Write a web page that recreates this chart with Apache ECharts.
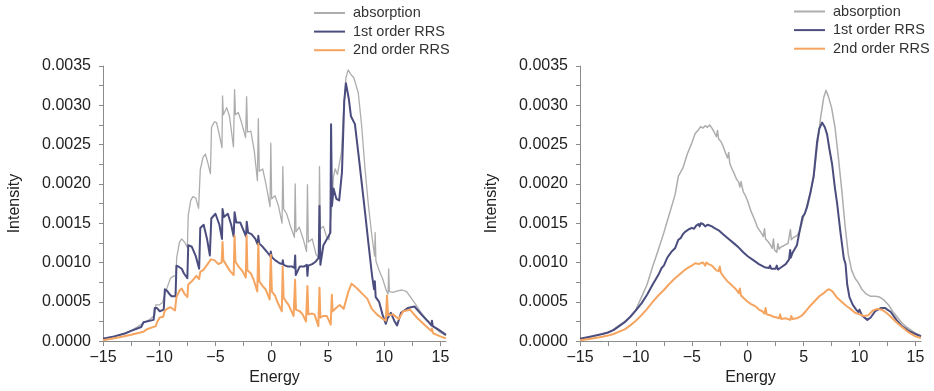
<!DOCTYPE html>
<html>
<head>
<meta charset="utf-8">
<script src="https://cdn.jsdelivr.net/npm/echarts@6/dist/echarts.min.js"></script>
<style>
  html, body { margin: 0; padding: 0; background: #ffffff; }
  #chart { width: 934px; height: 391px; }
</style>
</head>
<body>
<div id="chart"></div>
<script>
// Intensities below are written in units of 1e-4.
const INTENSITY_UNIT = 1e-4;

const seriesNames = ['absorption', '1st order RRS', '2nd order RRS'];

const energyTicks = [-15, -12.5, -10, -7.5, -5, -2.5, 0, 2.5, 5, 7.5, 10, 12.5, 15];
const energyLabels = [-15, -10, -5, 0, 5, 10, 15];

// Left panel: [energy, intensity]
const leftAbsorption = [[-15,0.3],[-14,0.6],[-13.2,0.85],[-12.3,1.5],[-11.4,2.3],[-10.8,2.8],[-10.4,3.3],[-10.3,4.6],[-10,4.6],[-9.7,4.9],[-9.5,6.0],[-9.3,6.8],[-9,8.0],[-8.7,8.3],[-8.5,8.2],[-8.45,10.6],[-8.2,12.6],[-8,13.0],[-7.75,12.6],[-7.5,11.9],[-7.42,16.0],[-7.2,17.9],[-7,18.4],[-6.75,18.2],[-6.5,16.9],[-6.35,21.8],[-6.1,23.4],[-5.9,23.8],[-5.7,22.8],[-5.45,21.3],[-5.35,27.2],[-5.1,27.9],[-4.9,27.8],[-4.65,26.2],[-4.42,24.6],[-4.37,31.2],[-4.3,28.8],[-4,29.7],[-3.75,28.6],[-3.4,24.7],[-3.3,32.0],[-3.22,28.8],[-2.97,29.1],[-2.7,27.9],[-2.32,25.9],[-2.23,31.1],[-2.15,26.6],[-1.85,26.7],[-1.55,24.2],[-1.27,20.4],[-1.19,28.3],[-1.1,21.6],[-0.8,21.9],[-0.5,19.9],[-0.15,17.1],[-0.08,25.2],[0,18.1],[0.3,18.5],[0.6,17.2],[0.92,15.0],[0.99,22.2],[1.07,16.8],[1.33,16.2],[1.65,14.7],[2.02,13.2],[2.09,20.0],[2.16,13.9],[2.45,14.5],[2.8,13.0],[3.1,11.4],[3.18,19.9],[3.26,12.6],[3.6,13.0],[3.95,11.0],[4.18,10.6],[4.25,22.2],[4.33,14.3],[4.6,14.6],[4.85,13.4],[5.1,12.9],[5.3,16.5],[5.5,21.0],[5.65,21.9],[5.85,21.2],[6.0,21.0],[6.2,24.0],[6.4,29.5],[6.6,33.5],[6.8,34.5],[7.0,34.0],[7.3,33.5],[7.7,31.6],[8.0,27.4],[8.3,21.9],[8.6,17.3],[8.9,13.5],[9.15,10.8],[9.2,13.8],[9.27,10.2],[9.55,9.0],[9.85,8.0],[10.2,6.4],[10.35,6.0],[10.4,9.2],[10.47,6.3],[10.8,6.2],[11.2,6.4],[11.6,6.5],[12.0,6.3],[12.6,5.1],[13.2,3.8],[13.8,2.7],[14.4,1.8],[15.0,1.1],[15.5,0.7]];

const leftFirstOrder = [[-15,0.3],[-14,0.6],[-13,1.0],[-12.5,1.3],[-11.6,1.8],[-11.4,2.4],[-10.5,2.7],[-10.4,4.2],[-10.2,4.2],[-9.95,3.8],[-9.6,4.0],[-9.5,6.6],[-9.3,6.4],[-9.1,6.0],[-8.9,5.7],[-8.55,5.7],[-8.47,9.6],[-8.2,9.4],[-8,9.2],[-7.8,8.6],[-7.5,8.0],[-7.42,12.2],[-7.1,12.0],[-6.75,10.8],[-6.45,9.2],[-6.35,14.4],[-6.05,14.8],[-5.75,13.0],[-5.5,10.9],[-5.37,15.6],[-5.0,16.2],[-4.65,14.8],[-4.42,13.0],[-4.37,16.8],[-4.25,15.8],[-3.9,16.2],[-3.6,14.8],[-3.38,13.3],[-3.3,16.4],[-3.15,15.1],[-2.8,15.1],[-2.45,13.9],[-2.28,13.3],[-2.22,15.2],[-2.1,13.8],[-1.8,13.6],[-1.45,13.0],[-1.25,12.3],[-1.19,13.4],[-1.1,12.4],[-0.8,12.0],[-0.45,11.4],[-0.12,10.8],[-0.08,11.4],[0,10.7],[0.3,10.3],[0.7,9.9],[0.95,9.8],[0.99,10.3],[1.05,9.7],[1.4,9.5],[1.8,9.5],[2.02,9.3],[2.09,10.9],[2.14,8.4],[2.5,9.5],[2.9,9.5],[3.12,9.7],[3.18,8.3],[3.25,9.6],[3.6,9.8],[3.9,10.1],[4.18,10.6],[4.25,17.2],[4.33,9.7],[4.6,12.2],[5.0,13.2],[5.22,13.8],[5.28,27.6],[5.36,17.2],[5.5,19.4],[5.75,18.1],[6.0,17.9],[6.25,21.5],[6.45,30.5],[6.6,32.8],[6.85,30.9],[7.05,28.6],[7.4,27.6],[7.73,23.6],[8.03,19.8],[8.33,16.0],[8.62,12.2],[8.92,8.4],[9.1,6.6],[9.17,7.6],[9.25,5.6],[9.55,5.0],[9.85,3.4],[10.15,2.2],[10.3,2.9],[10.6,3.6],[10.9,2.6],[11.15,2.0],[11.5,3.6],[12.1,4.2],[12.7,4.4],[13.3,3.4],[13.9,2.5],[14.2,2.0],[14.25,2.6],[14.32,1.9],[14.8,1.5],[15.5,0.8]];

const leftSecondOrder = [[-15,0.1],[-14,0.35],[-13,0.65],[-12.5,0.8],[-11.4,1.2],[-11.1,1.5],[-10.3,1.9],[-10.2,2.4],[-9.95,3.0],[-9.65,3.1],[-9.5,3.9],[-9.2,4.2],[-9,4.3],[-8.6,3.9],[-8.47,5.6],[-8.2,6.4],[-8,6.7],[-7.75,6.0],[-7.5,5.6],[-7.42,7.2],[-7.1,7.6],[-6.7,8.3],[-6.45,7.9],[-6.35,8.8],[-6.05,9.1],[-5.7,9.8],[-5.4,10.4],[-5.1,10.3],[-4.75,9.8],[-4.45,10.0],[-4.37,12.6],[-4.3,10.3],[-4,9.6],[-3.7,8.9],[-3.38,8.4],[-3.3,13.4],[-3.22,10.1],[-2.9,9.4],[-2.6,8.9],[-2.3,8.1],[-2.23,13.4],[-2.16,9.0],[-1.85,8.6],[-1.6,7.8],[-1.28,6.3],[-1.19,12.4],[-1.1,7.6],[-0.8,7.0],[-0.55,6.6],[-0.18,5.3],[-0.08,11.0],[0.02,6.3],[0.3,5.8],[0.5,5.0],[0.9,3.8],[0.98,9.5],[1.06,5.5],[1.35,4.9],[1.5,4.6],[1.95,3.2],[2.08,7.8],[2.16,4.0],[2.5,3.8],[2.75,3.4],[3.05,2.5],[3.18,7.0],[3.26,3.4],[3.6,3.5],[3.8,3.4],[4.15,1.9],[4.25,6.8],[4.33,3.0],[4.6,3.2],[4.9,3.2],[5.25,2.1],[5.35,5.9],[5.42,3.8],[5.8,4.3],[6.05,4.6],[6.4,4.1],[6.8,6.2],[7.1,7.3],[7.35,7.0],[7.6,6.7],[8.0,6.1],[8.5,5.4],[8.9,4.1],[9.35,3.4],[9.8,2.9],[10.15,2.6],[10.25,5.8],[10.35,3.3],[10.8,3.4],[11.3,2.8],[11.7,3.8],[12.3,4.0],[12.9,3.0],[13.8,1.8],[14.2,1.3],[14.25,1.6],[14.35,1.0],[15.0,0.6],[15.5,0.35]];

// Right panel: [energy, intensity]
const rightAbsorption = [[-15,0.2],[-14,0.5],[-13,0.9],[-12.5,1.1],[-12,1.5],[-11.5,2.0],[-11,2.5],[-10.5,3.1],[-10,4.0],[-9.5,5.6],[-9,7.2],[-8.5,9.5],[-8,11.6],[-7.5,13.8],[-7,16.2],[-6.5,18.6],[-6.2,21.0],[-5.8,22.0],[-5.4,23.8],[-5.0,25.2],[-4.7,26.4],[-4.4,26.9],[-4.2,27.3],[-4.0,27.1],[-3.8,27.4],[-3.6,27.2],[-3.4,27.5],[-3.2,27.1],[-3.0,26.6],[-2.8,26.0],[-2.7,26.8],[-2.6,25.7],[-2.4,25.4],[-2.2,24.8],[-2.0,24.0],[-1.8,23.3],[-1.7,24.0],[-1.6,22.6],[-1.4,21.9],[-1.2,21.3],[-1.0,20.6],[-0.8,20.2],[-0.7,19.6],[-0.6,20.3],[-0.4,19.0],[-0.2,18.5],[0,17.8],[0.3,16.5],[0.6,15.5],[0.9,14.4],[1.2,13.8],[1.4,13.3],[1.5,14.3],[1.6,13.0],[1.8,12.7],[2.0,12.3],[2.2,11.8],[2.3,13.0],[2.4,11.6],[2.6,11.3],[2.7,12.4],[2.8,11.7],[3.0,12.0],[3.2,12.1],[3.4,12.3],[3.6,12.4],[3.75,12.6],[3.82,14.2],[3.9,12.9],[4.1,13.2],[4.4,13.4],[4.7,14.2],[5.0,15.8],[5.3,17.3],[5.6,18.9],[5.9,20.8],[6.2,24.5],[6.5,28.2],[6.8,31.0],[7.0,31.9],[7.2,31.2],[7.5,29.7],[7.8,27.3],[8.1,23.5],[8.4,19.4],[8.7,14.8],[9.0,11.0],[9.3,9.0],[9.6,8.0],[9.9,7.4],[10.2,6.6],[10.6,6.0],[11.0,5.7],[11.4,5.7],[11.8,5.6],[12.2,5.2],[12.6,4.6],[13.0,3.7],[13.4,3.0],[13.8,2.3],[14.2,1.8],[14.6,1.4],[15.0,1.0],[15.5,0.7]];

const rightFirstOrder = [[-15,0.3],[-14,0.6],[-13,0.9],[-12.5,1.1],[-12,1.4],[-11.5,1.9],[-11,2.4],[-10.5,3.1],[-10,3.9],[-9.5,4.8],[-9,5.9],[-8.5,7.2],[-8,8.4],[-7.7,9.3],[-7.5,9.6],[-7.2,10.6],[-7.0,11.0],[-6.8,11.4],[-6.5,11.8],[-6.2,12.9],[-6.0,13.1],[-5.8,13.6],[-5.6,13.9],[-5.3,14.2],[-5.0,14.4],[-4.8,14.3],[-4.6,14.7],[-4.4,14.9],[-4.3,14.6],[-4.2,15.0],[-4.0,14.9],[-3.8,14.6],[-3.6,14.8],[-3.4,14.7],[-3.2,14.6],[-3.0,14.4],[-2.6,14.1],[-2.2,13.6],[-1.7,13.0],[-1.2,12.4],[-0.8,11.9],[-0.4,11.3],[0,10.8],[0.5,10.3],[1.0,9.8],[1.5,9.4],[1.9,9.3],[2.0,9.6],[2.1,9.2],[2.5,9.2],[2.6,9.6],[2.7,9.1],[3.0,9.4],[3.4,9.8],[3.7,10.4],[3.8,11.6],[3.85,10.6],[4.0,11.2],[4.4,12.2],[4.7,14.4],[4.9,15.8],[5.1,16.2],[5.3,17.0],[5.6,18.8],[5.9,21.0],[6.2,25.3],[6.4,27.0],[6.65,27.8],[6.9,27.2],[7.1,26.3],[7.3,24.5],[7.55,22.5],[7.8,19.5],[8.0,17.5],[8.3,13.8],[8.6,10.5],[8.75,9.8],[8.9,7.2],[9.1,5.6],[9.4,4.6],[9.7,4.0],[9.9,3.7],[10.0,4.0],[10.2,3.3],[10.7,2.7],[11.0,3.0],[11.4,3.8],[11.9,4.2],[12.3,4.2],[12.8,3.7],[13.3,2.7],[13.8,1.9],[14.4,1.3],[15.0,0.9],[15.5,0.6]];

const rightSecondOrder = [[-15,0.1],[-14,0.3],[-13,0.55],[-12.5,0.7],[-12,0.9],[-11.5,1.2],[-11,1.5],[-10.5,2.0],[-10,2.6],[-9.5,3.3],[-9,4.1],[-8.5,5.0],[-8,5.8],[-7.5,6.5],[-7,7.3],[-6.5,8.0],[-6,8.6],[-5.5,9.2],[-5.0,9.6],[-4.7,9.9],[-4.4,9.8],[-4.2,9.9],[-4.0,10.0],[-3.8,9.6],[-3.7,10.0],[-3.5,9.8],[-3.2,9.6],[-3.0,9.3],[-2.8,9.0],[-2.6,8.9],[-2.5,9.5],[-2.4,8.7],[-2.1,8.1],[-1.8,7.6],[-1.5,7.2],[-1.2,6.8],[-1.0,6.5],[-0.8,6.1],[-0.7,6.7],[-0.6,5.8],[-0.3,5.4],[0,5.0],[0.3,4.7],[0.6,4.5],[0.8,4.3],[1.0,4.0],[1.3,3.8],[1.5,3.5],[1.6,4.2],[1.7,3.4],[2.0,3.3],[2.3,3.1],[2.6,3.0],[2.8,2.9],[2.9,3.4],[3.0,2.8],[3.4,2.9],[3.8,2.7],[3.9,3.2],[4.0,2.8],[4.4,2.9],[4.8,3.2],[5.2,3.8],[5.6,4.5],[6.0,5.1],[6.4,5.7],[6.8,6.1],[7.1,6.5],[7.3,6.6],[7.6,6.3],[8.0,5.5],[8.4,5.0],[8.8,4.5],[9.2,4.1],[9.6,3.6],[10.0,3.4],[10.4,3.2],[10.8,3.3],[11.2,3.9],[11.6,4.1],[12.0,4.0],[12.4,3.6],[12.8,3.1],[13.3,2.4],[13.8,1.8],[14.4,1.1],[15.0,0.6],[15.5,0.4]];

const FONT = '"Liberation Sans", Arial, Helvetica, sans-serif';
const TEXT_COLOR = '#222222';
const AXIS_COLOR = '#8c8c8c';
const COLORS = { absorption: '#adadad', first: '#4b4d7f', second: '#f5a560' };

const toPoints = (rows) => rows.map(([e, v]) => [e, v * INTENSITY_UNIT]);
const minusSign = (v) => String(v).replace('-', '\u2212');

function xAxisFor(gridIndex) {
  return {
    type: 'value', gridIndex, min: -15, max: 15.5,
    name: 'Energy', nameLocation: 'middle', nameGap: 27,
    nameTextStyle: { fontSize: 16, color: TEXT_COLOR, fontFamily: FONT },
    axisLine: { show: true, onZero: false, lineStyle: { color: AXIS_COLOR, width: 1 } },
    axisTick: { show: true, inside: false, length: 5, customValues: energyTicks, lineStyle: { color: AXIS_COLOR } },
    axisLabel: { customValues: energyLabels, fontSize: 16, color: TEXT_COLOR, fontFamily: FONT, margin: 8, formatter: minusSign },
    splitLine: { show: false }
  };
}

function yAxisFor(gridIndex) {
  return {
    type: 'value', gridIndex, min: 0, max: 0.0035, interval: 0.0005,
    name: 'Intensity', nameLocation: 'middle', nameGap: 80, nameRotate: 90,
    nameTextStyle: { fontSize: 16, color: TEXT_COLOR, fontFamily: FONT },
    axisLine: { show: true, onZero: false, lineStyle: { color: AXIS_COLOR, width: 1 } },
    axisTick: { show: true, inside: false, length: 4, lineStyle: { color: AXIS_COLOR } },
    minorTick: { show: true, splitNumber: 2, length: 4, lineStyle: { color: AXIS_COLOR } },
    axisLabel: { fontSize: 16, color: TEXT_COLOR, fontFamily: FONT, margin: 12, formatter: (v) => v.toFixed(4) },
    splitLine: { show: false }
  };
}

function lineSeries(name, data, axisIndex, color, width, z) {
  return {
    name, type: 'line', data: toPoints(data),
    xAxisIndex: axisIndex, yAxisIndex: axisIndex,
    symbol: 'none', smooth: false, z,
    lineStyle: { color, width, join: 'round' },
    itemStyle: { color },
    emphasis: { disabled: true }
  };
}

function legendAt(left, top) {
  return {
    orient: 'vertical', left, top, padding: 0,
    icon: 'rect', itemWidth: 31, itemHeight: 2, itemGap: 3.6,
    data: seriesNames,
    textStyle: { fontSize: 14.5, color: '#333333', fontFamily: FONT, lineHeight: 14, padding: [0, 0, 0, 3] },
    selectedMode: false
  };
}

const chart = echarts.init(document.getElementById('chart'), null, { renderer: 'canvas' });
chart.setOption({
  animation: false,
  backgroundColor: '#ffffff',
  legend: [legendAt(314, 5.5), legendAt(794, 4)],
  grid: [
    { left: 103, top: 66, width: 343, height: 277 },
    { left: 580, top: 66, width: 341, height: 277 }
  ],
  xAxis: [xAxisFor(0), xAxisFor(1)],
  yAxis: [yAxisFor(0), yAxisFor(1)],
  series: [
    lineSeries(seriesNames[0], leftAbsorption, 0, COLORS.absorption, 1.3, 2),
    lineSeries(seriesNames[1], leftFirstOrder, 0, COLORS.first, 2, 3),
    lineSeries(seriesNames[2], leftSecondOrder, 0, COLORS.second, 2, 4),
    lineSeries(seriesNames[0], rightAbsorption, 1, COLORS.absorption, 1.5, 2),
    lineSeries(seriesNames[1], rightFirstOrder, 1, COLORS.first, 2, 3),
    lineSeries(seriesNames[2], rightSecondOrder, 1, COLORS.second, 2, 4)
  ]
});
</script>
</body>
</html>
